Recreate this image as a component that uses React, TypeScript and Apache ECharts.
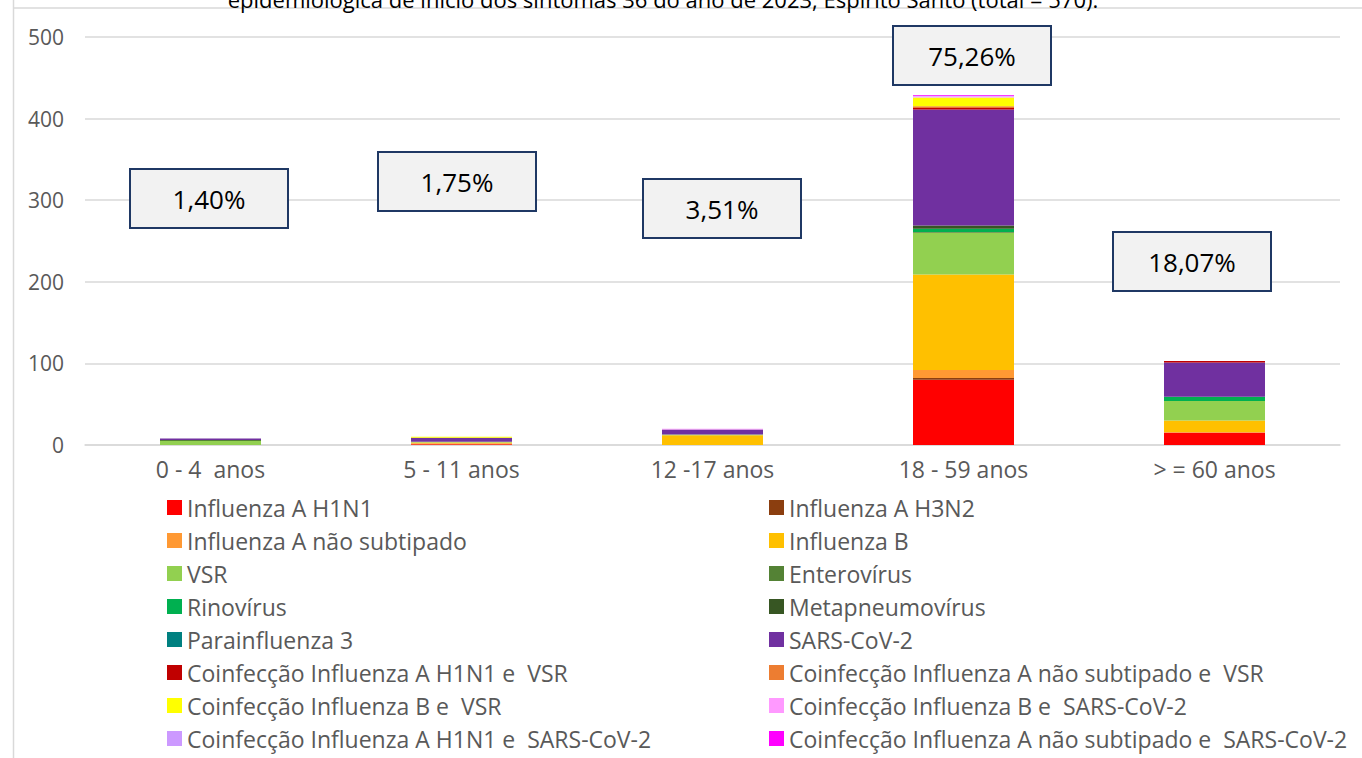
import React, { useEffect, useRef } from "react";
import * as echarts from "echarts";

const categories = ["0 - 4  anos", "5 - 11 anos", "12 -17 anos", "18 - 59 anos", "> = 60 anos"];

const seriesNames = [
  "Influenza A H1N1",
  "Influenza A H3N2",
  "Influenza A não subtipado",
  "Influenza B",
  "VSR",
  "Enterovírus",
  "Rinovírus",
  "Metapneumovírus",
  "Parainfluenza 3",
  "SARS-CoV-2",
  "Coinfecção Influenza A H1N1 e  VSR",
  "Coinfecção Influenza A não subtipado e  VSR",
  "Coinfecção Influenza B e  VSR",
  "Coinfecção Influenza B e  SARS-CoV-2",
  "Coinfecção Influenza A H1N1 e  SARS-CoV-2",
  "Coinfecção Influenza A não subtipado e  SARS-CoV-2",
];

const seriesColors = [
  "#FF0000", "#8B3E0F", "#FF9933", "#FFC000", "#92D050", "#548235", "#00B050", "#375623",
  "#008080", "#7030A0", "#C00000", "#ED7D31", "#FFFF00", "#FF99FF", "#CC99FF", "#FF00FF",
];

// values per category: 0-4, 5-11, 12-17, 18-59, >=60
const influenzaAH1N1 = [0, 1, 0, 80, 15];
const influenzaAH3N2 = [0, 0, 0, 2, 0];
const influenzaANaoSub = [0, 1, 0, 10, 1];
const influenzaB = [0, 1, 12, 117, 14];
const vsr = [5, 1, 1, 51, 24];
const enterovirus = [1, 0, 0, 1, 0];
const rinovirus = [0, 0, 0, 4, 5];
const metapneumovirus = [0, 0, 0, 4, 0];
const parainfluenza3 = [0, 0, 0, 0, 0];
const sarsCov2 = [2, 5, 6, 142, 42];
const coinfH1N1Vsr = [0, 0, 0, 2, 2];
const coinfANaoSubVsr = [0, 0, 0, 2, 0];
const coinfBVsr = [0, 1, 0, 11, 0];
const coinfBSars = [0, 0, 1, 1, 0];
const coinfH1N1Sars = [0, 0, 0, 1, 0];
const coinfANaoSubSars = [0, 0, 0, 1, 0];

const seriesValues = [
  influenzaAH1N1, influenzaAH3N2, influenzaANaoSub, influenzaB, vsr, enterovirus, rinovirus,
  metapneumovirus, parainfluenza3, sarsCov2, coinfH1N1Vsr, coinfANaoSubVsr, coinfBVsr,
  coinfBSars, coinfH1N1Sars, coinfANaoSubSars,
];

const percentLabels = ["1,40%", "1,75%", "3,51%", "75,26%", "18,07%"];
const yTicks = [0, 100, 200, 300, 400, 500];
const titleText = "epidemiológica de início dos sintomas 36 do ano de 2023, Espírito Santo (total = 570).";

// layout of annotation boxes (left, top)
const boxPositions = [
  [130, 169],
  [378, 152],
  [643, 179],
  [893, 26],
  [1113, 232],
];

const FONT = "'Open Sans', sans-serif";
const GRAY = "#595959";

export default function App() {
  const ref = useRef<HTMLDivElement>(null);

  useEffect(() => {
    if (!ref.current) return;
    const chart = echarts.init(ref.current, undefined, { renderer: "svg" });

    const boxes: any[] = [];
    percentLabels.forEach((lbl, i) => {
      const [x, y] = boxPositions[i];
      boxes.push({
        type: "rect",
        shape: { x, y, width: 158, height: 59 },
        style: { fill: "#F2F2F2", stroke: "#1F3864", lineWidth: 2 },
        z: 100,
      });
      boxes.push({
        type: "text",
        x: x + 79,
        y: y + 30,
        style: {
          text: lbl,
          fontSize: 26,
          fontFamily: FONT,
          fill: "#000000",
          align: "center",
          verticalAlign: "middle",
        },
        z: 101,
      });
    });

    const leftNames = seriesNames.filter((_, i) => i % 2 === 0);
    const rightNames = seriesNames.filter((_, i) => i % 2 === 1);

    const legendCommon = {
      orient: "vertical" as const,
      top: 496,
      padding: 0,
      itemWidth: 15,
      itemHeight: 15,
      itemGap: 10,
      icon: "rect",
      textStyle: { fontSize: 23, lineHeight: 23, color: GRAY, fontFamily: FONT },
    };

    chart.setOption({
      animation: false,
      textStyle: { fontFamily: FONT },
      grid: { left: 85, right: 22, top: 37, bottom: 313, containLabel: false },
      xAxis: {
        type: "category",
        data: categories,
        axisLine: { lineStyle: { color: "#D9D9D9", width: 1.5 } },
        axisTick: { show: false },
        axisLabel: { color: GRAY, fontSize: 23, fontFamily: FONT, margin: 12 },
      },
      yAxis: {
        type: "value",
        min: yTicks[0],
        max: yTicks[yTicks.length - 1],
        interval: 100,
        axisLine: { show: false },
        axisTick: { show: false },
        axisLabel: { color: GRAY, fontSize: 21, fontFamily: FONT, margin: 21 },
        splitLine: { lineStyle: { color: "#D9D9D9", width: 1.5 } },
      },
      legend: [
        { ...legendCommon, left: 167, data: leftNames },
        { ...legendCommon, left: 769, data: rightNames },
      ],
      series: seriesNames.map((name, i) => ({
        name,
        type: "bar",
        stack: "total",
        barWidth: 101,
        data: seriesValues[i],
        itemStyle: { color: seriesColors[i] },
      })),
      graphic: [
        {
          type: "line",
          shape: { x1: 13.5, y1: 0, x2: 13.5, y2: 758 },
          style: { stroke: "#D9D9D9", lineWidth: 1.5 },
        },
        {
          type: "line",
          shape: { x1: 13, y1: 8, x2: 1362, y2: 8 },
          style: { stroke: "#D9D9D9", lineWidth: 1.5 },
        },
        {
          type: "text",
          x: 663,
          y: 10,
          style: {
            text: titleText,
            fontSize: 22,
            fontFamily: FONT,
            fill: "#000000",
            align: "center",
            verticalAlign: "bottom",
          },
        },
        ...boxes,
      ],
    });

    return () => chart.dispose();
  }, []);

  return (
    <div
      ref={ref}
      style={{ position: "fixed", left: 0, top: 0, width: 1362, height: 758, background: "#fff" }}
    />
  );
}
